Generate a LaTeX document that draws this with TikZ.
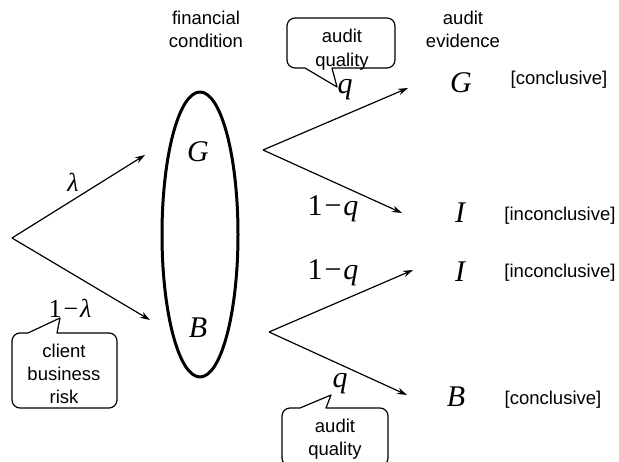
\documentclass[tikz,border=0pt]{standalone}
\usepackage{fontspec}
\setmainfont{Liberation Sans}
\newfontfamily\tms{Liberation Serif}
\usetikzlibrary{arrows.meta,shapes.geometric}
\tikzset{
  lbl/.style={font=\fontsize{18.5}{23}\selectfont, align=center, inner sep=0pt},
  mth/.style={font=\fontsize{30}{32}\selectfont\tms\itshape, inner sep=0pt},
  mths/.style={font=\fontsize{26}{28}\selectfont\tms, inner sep=0pt},
  br/.style={-{Stealth[length=10pt,width=6.5pt]}, line width=1.2pt},
  callout/.style={line width=1.2pt, line join=round}
}
\begin{document}
\begin{tikzpicture}[x=1pt,y=-1pt]
\useasboundingbox (0,0) rectangle (619,462);
\clip (0,0) rectangle (619,462);
% headers
\node[lbl] (fin) at (206,29) {financial\\condition};
\node[lbl] (aev) at (463,29) {audit\\evidence};
% ellipse
\node[draw, ellipse, line width=3pt, minimum width=76pt, minimum height=285pt, inner sep=0pt] (ell) at (200,234.5) {};
\node[mth] (Gc) at (198,152) {G};
\node[mth] (Bc) at (198,328) {B};
% root branches
\coordinate (root) at (12,238);
\coordinate (tG) at (145,155);
\coordinate (tB) at (150,320);
\draw[br] (root) -- (tG);
\draw[br] (root) -- (tB);
\node[mths, font=\fontsize{26}{28}\selectfont\tms\itshape] (lam) at (73,182) {λ};
\node[mths] (lam1) at (70,308) {1\kern2pt−\kern2pt{\itshape λ}};
% upper branch
\coordinate (vG) at (263,150);
\coordinate (tGG) at (408,88);
\coordinate (tGI) at (402,213);
\draw[br] (vG) -- (tGG);
\draw[br] (vG) -- (tGI);
\node[mth] (q1) at (345,90) {q};
\node[mth, font=\fontsize{30}{32}\selectfont\tms] (q1m) at (333,209) {1\kern2pt−\kern2pt{\itshape q}};
% lower branch
\coordinate (vB) at (269,332);
\coordinate (tBI) at (413,270);
\coordinate (tBB) at (407,395);
\draw[br] (vB) -- (tBI);
\draw[br] (vB) -- (tBB);
\node[mth, font=\fontsize{30}{32}\selectfont\tms] (q2m) at (333,273) {1\kern2pt−\kern2pt{\itshape q}};
\node[mth] (q2) at (340,384) {q};
% outcomes
\node[mth] (oG) at (461,83) {G};
\node[mth] (oI1) at (460,213) {I};
\node[mth] (oI2) at (460,272) {I};
\node[mth] (oB) at (456,397) {B};
\node[lbl] (c1) at (559,80) {[conclusive]};
\node[lbl] (i1) at (560,216) {[inconclusive]};
\node[lbl] (i2) at (560,273) {[inconclusive]};
\node[lbl] (c2) at (553,400) {[conclusive]};
% callout top
\draw[callout] (332,68) [rounded corners=8pt] -- (395,68) -- (395,18) -- (287,18) -- (287,68) [sharp corners] -- (305,68) -- (337,87) -- cycle;
\node[lbl, font=\fontsize{18.5}{24}\selectfont] (aq1) at (342,50) {audit\\quality};
% callout bottom
\draw[callout] (326,408) [rounded corners=8pt] -- (388,408) -- (388,466) -- (282,466) -- (282,408) [sharp corners] -- (300,408) -- (331,395) -- cycle;
\node[lbl] (aq2) at (335,439) {audit\\quality};
% callout left
\draw[callout] (57,333) [rounded corners=8pt] -- (117,333) -- (117,408) -- (12,408) -- (12,333) [sharp corners] -- (28,333) -- (60,318) -- cycle;
\node[lbl] (cbr) at (64,374) {client\\business\\risk};
\end{tikzpicture}
\end{document}
